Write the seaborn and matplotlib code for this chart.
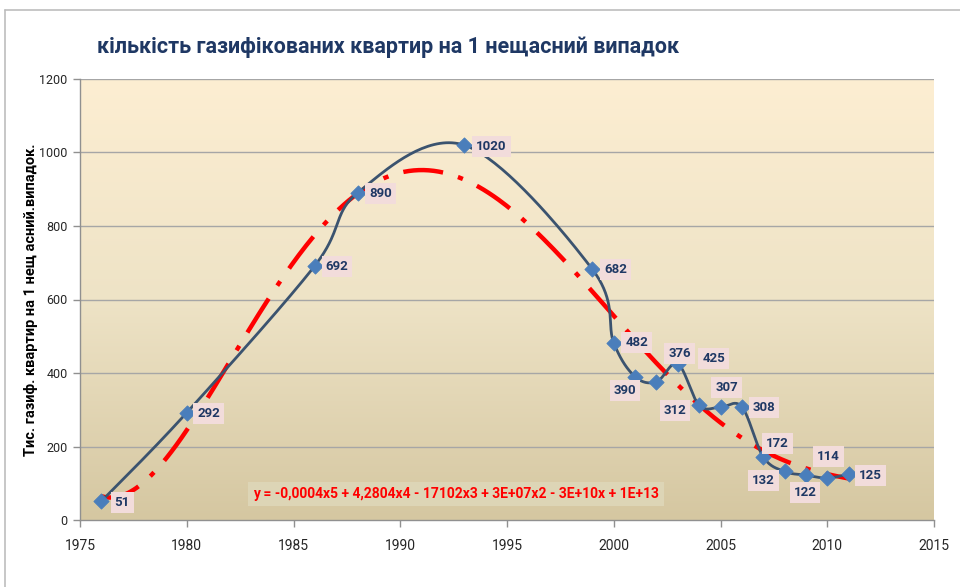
import numpy as np
import pandas as pd
import matplotlib
matplotlib.use("Agg")
import matplotlib.pyplot as plt
import seaborn as sns
from matplotlib.colors import LinearSegmentedColormap

# ---- data ----
years = [1976, 1980, 1986, 1988, 1993, 1999, 2000, 2001, 2002, 2003, 2004,
         2005, 2006, 2007, 2008, 2009, 2010, 2011]
values = [51, 292, 692, 890, 1020, 682, 482, 390, 376, 425, 312,
          307, 308, 172, 132, 122, 114, 125]
x_ticks = [1975, 1980, 1985, 1990, 1995, 2000, 2005, 2010, 2015]
y_ticks = [0, 200, 400, 600, 800, 1000, 1200]
title = "кількість газифікованих квартир на 1 нещасний випадок"
ylabel = "Тис. газиф. квартир на 1 нещ асний.випадок."
equation = "y = -0,0004x5 + 4,2804x4 - 17102x3 + 3E+07x2 - 3E+10x + 1E+13"

# label offsets in pixels (style only)
label_offsets = [(21, -1), (22, -1), (22, -1), (23, -1), (27, -1), (23, 0),
                 (23, 0), (-10, -14), (23, 28), (36, 5), (-24, -5), (6, 20),
                 (22, -1), (14, 13), (-21, -9), (-1, -17), (1, 22), (22, -1)]

sns.set_theme(style="white")
plt.rcParams['font.family'] = ['Roboto', 'DejaVu Sans']

fig = plt.figure(figsize=(9.6, 5.87), dpi=100)
ax = fig.add_axes([80/960, 1-520/587, (934-80)/960, (520-79)/587])

# gradient background
cmap = LinearSegmentedColormap.from_list("bg", ["#d5c7a1", "#eee3c6", "#fdeed2"])
grad = np.linspace(0, 1, 256).reshape(-1, 1)
ax.imshow(grad, extent=[1975, 2015, 0, 1200], origin="lower", aspect="auto",
          cmap=cmap, zorder=0)

# smoothed (Catmull-Rom / Bezier like Excel) line
xs = np.array(years, dtype=float)
ys = np.array(values, dtype=float)
px = np.concatenate([[xs[0]], xs, [xs[-1]]])
py = np.concatenate([[ys[0]], ys, [ys[-1]]])
sx, sy = [], []
t = np.linspace(0, 1, 40)
for i in range(1, len(px) - 2):
    p0 = np.array([px[i-1], py[i-1]]); p1 = np.array([px[i], py[i]])
    p2 = np.array([px[i+1], py[i+1]]); p3 = np.array([px[i+2], py[i+2]])
    c1 = p1 + (p2 - p0) / 6.0
    c2 = p2 - (p3 - p1) / 6.0
    b = ((1-t)**3)[:, None]*p1 + (3*(1-t)**2*t)[:, None]*c1 + (3*(1-t)*t**2)[:, None]*c2 + (t**3)[:, None]*p2
    sx.extend(b[:, 0]); sy.extend(b[:, 1])
smooth = pd.DataFrame({"x": sx, "y": sy})

# polynomial trend (order 5)
coef = np.polyfit(xs - 1975, ys, 5)
tx = np.linspace(1976, 2011, 300)
trend = pd.DataFrame({"x": tx, "y": np.polyval(coef, tx - 1975)})

for v in y_ticks[1:]:
    ax.axhline(v, color="#a6a6a6", lw=1, zorder=1)

sns.lineplot(data=trend, x="x", y="y", ax=ax, color="#ff0000", lw=3.2,
             sort=False, zorder=3)
ax.lines[-1].set_dashes([9, 3.5, 1.2, 3.5])
sns.lineplot(data=smooth, x="x", y="y", ax=ax, color="#3b536f", lw=2,
             sort=False, zorder=4)
df = pd.DataFrame({"year": years, "value": values})
sns.scatterplot(data=df, x="year", y="value", ax=ax, marker="D", s=60,
                color="#4a7ebb", edgecolor="#4a7ebb", zorder=5)

for yr, v, (dx, dy) in zip(years, values, label_offsets):
    ax.annotate(str(v), (yr, v), xytext=(dx, dy), textcoords="offset pixels",
                ha="center", va="center", fontsize=9.5, fontweight="bold",
                color="#1f3864", zorder=6,
                bbox=dict(boxstyle="square,pad=0.3", fc="#f2dcdb", ec="none"))

ax.text(1992.6, 71, equation, ha="center", va="center", fontsize=10,
        fontweight="bold", color="#ff0000", zorder=6,
        bbox=dict(boxstyle="square,pad=0.35", fc="#ddd5b6", ec="none"))

ax.set_xlim(1975, 2015)
ax.set_ylim(0, 1200)
ax.set_xticks(x_ticks)
ax.set_yticks(y_ticks)
ax.set_xticklabels([str(v) for v in x_ticks], fontsize=10)
ax.set_yticklabels([str(v) for v in y_ticks], fontsize=9)
ax.tick_params(axis="x", length=5, width=1, color="#909090", pad=9, direction="out", bottom=True)
ax.tick_params(axis="y", length=5, width=1, color="#909090", pad=4, direction="out", left=True)
ax.set_xlabel("")
ax.set_ylabel(ylabel, fontsize=10.5, fontweight="bold", color="black", labelpad=1)
for s in ["top", "right"]:
    ax.spines[s].set_visible(False)
for s in ["left", "bottom"]:
    ax.spines[s].set_color("#909090")
    ax.spines[s].set_linewidth(1)

fig.text(97/960, 1-47/587, title, ha="left", va="center", fontsize=15.5,
         fontweight="bold", color="#1f3864")

# outer chart border (top/left)
fig.add_artist(plt.Line2D([5/960, 1], [1-10/587, 1-10/587], color="#bdbdbd", lw=1.2))
fig.add_artist(plt.Line2D([5/960, 5/960], [0, 1-10/587], color="#bdbdbd", lw=1.2))

fig.savefig("out.png", dpi=100)
